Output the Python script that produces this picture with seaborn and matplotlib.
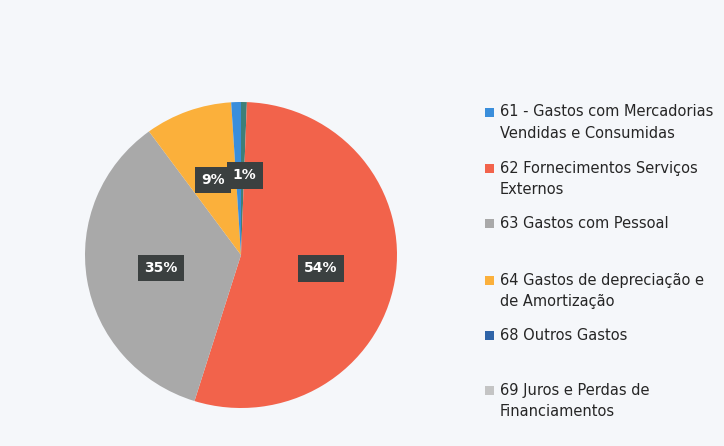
import numpy as np
import matplotlib.pyplot as plt
import seaborn as sns
from matplotlib.patches import Rectangle

# Categories as listed in the legend
categorias = ["61 - Gastos com Mercadorias\nVendidas e Consumidas",
              "62 Fornecimentos Serviços\nExternos",
              "63 Gastos com Pessoal",
              "64 Gastos de depreciação e\nde Amortização",
              "68 Outros Gastos",
              "69 Juros e Perdas de\nFinanciamentos"]
codigos = ["61", "62", "63", "64", "68", "69"]
percentagens = [1.0, 54.0, 35.0, 9.0, 0.6, 0.0]
cores = ["#3A8EDB", "#F2634B", "#A9A9A9", "#FBB03B", "#3F7F78", "#C4C4C4"]
cores_legenda = ["#3A8EDB", "#F2634B", "#A9A9A9", "#FBB03B", "#2F64A8", "#C4C4C4"]

# order of the slices, clockwise from 12 o'clock
ordem_fatias = ["68", "62", "63", "64", "61", "69"]
com_rotulo = ["62", "63", "64", "61"]

# first-line position of each legend entry (pixels from top)
legenda_y = [112, 168, 223, 280, 335, 390]
W, H = 724, 446

sns.set_theme(style="white")
plt.rcParams['font.family'] = ['DejaVu Sans']

fig = plt.figure(figsize=(7.24, 4.46), dpi=100)
fig.patch.set_facecolor("#F5F7FA")

# pie area
ax = fig.add_axes([(241 - 156) / W, (H - 255 - 153) / H, 312 / W, 306 / H])
idx = [codigos.index(c) for c in ordem_fatias]
vals = [percentagens[i] for i in idx]
cols = [cores[i] for i in idx]
wedges, _ = ax.pie(vals, colors=cols, startangle=90, counterclock=False,
                   wedgeprops=dict(linewidth=0))
ax.set_xlim(-1, 1)
ax.set_ylim(-1, 1)
ax.set_aspect("auto")

for w, cod, v in zip(wedges, ordem_fatias, vals):
    if cod not in com_rotulo:
        continue
    ang = np.deg2rad((w.theta1 + w.theta2) / 2)
    r = 0.52
    dx = 0.04 if cod == "61" else 0.0
    ax.text(r * np.cos(ang) + dx, r * np.sin(ang), f"{v:.0f}%", ha="center", va="center",
            color="white", fontsize=10, fontweight="bold",
            bbox=dict(boxstyle="square,pad=0.45", fc="#3B4040", ec="none"))

# legend: square marker aligned with the first line of each label
for lab, c, yp in zip(categorias, cores_legenda, legenda_y):
    fig.add_artist(Rectangle((485 / W, 1 - (yp + 5) / H), 9 / W, 9 / H,
                             transform=fig.transFigure, facecolor=c, edgecolor="none"))
    for k, linha in enumerate(lab.split("\n")):
        fig.text(500 / W, 1 - (yp + k * 21.5) / H, linha, ha="left", va="center",
                 fontsize=10.5, color="#262626")

fig.savefig("out.png", dpi=100, facecolor=fig.get_facecolor())
